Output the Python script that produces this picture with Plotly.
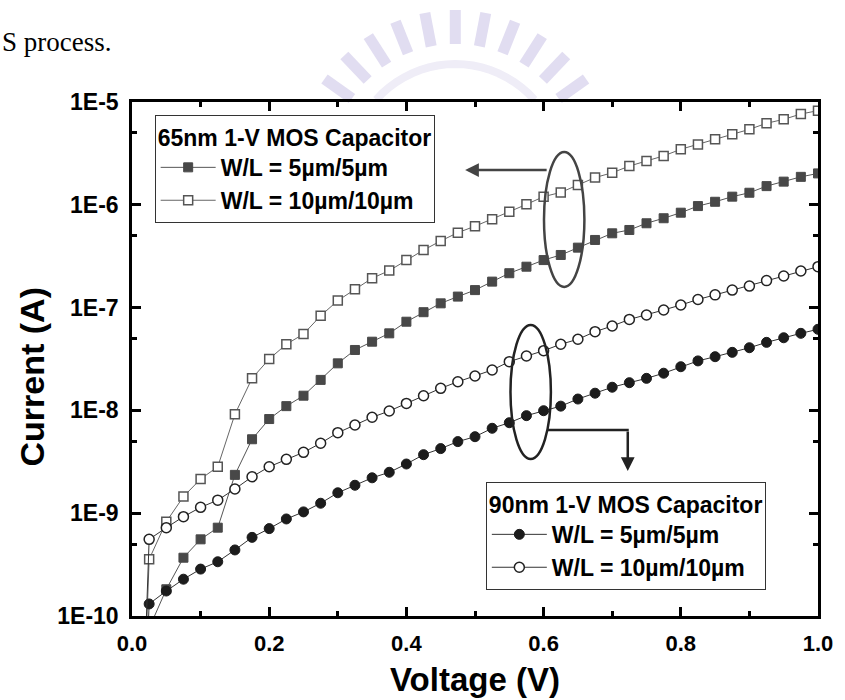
import math
import plotly.graph_objects as go

# ---------------- data ----------------
voltage = [0.0, 0.025, 0.05, 0.075, 0.1, 0.125, 0.15, 0.175, 0.2, 0.225, 0.25,
           0.275, 0.3, 0.325, 0.35, 0.375, 0.4, 0.425, 0.45, 0.475, 0.5,
           0.525, 0.55, 0.575, 0.6, 0.625, 0.65, 0.675, 0.7, 0.725, 0.75,
           0.775, 0.8, 0.825, 0.85, 0.875, 0.9, 0.925, 0.95, 0.975, 1.0]

i65_5um = [1e-14, 7.6e-11, 1.82e-10, 3.69e-10, 5.57e-10, 7.23e-10, 2.36e-9, 5.24e-9, 8.24e-9,
           1.10e-8, 1.39e-8, 1.98e-8, 2.87e-8, 3.87e-8, 4.66e-8, 5.62e-8, 7.29e-8,
           9.02e-8, 1.10e-7, 1.28e-7, 1.48e-7, 1.79e-7, 2.16e-7, 2.50e-7, 2.90e-7,
           3.25e-7, 3.83e-7, 4.55e-7, 5.28e-7, 5.69e-7, 6.61e-7, 7.40e-7, 8.38e-7,
           9.72e-7, 1.07e-6, 1.20e-6, 1.31e-6, 1.52e-6, 1.68e-6, 1.87e-6, 2.02e-6]

i65_10um = [1e-14, 3.56e-10, 8.26e-10, 1.45e-9, 2.15e-9, 2.83e-9, 9.16e-9, 2.05e-8, 3.16e-8,
            4.40e-8, 5.53e-8, 8.32e-8, 1.17e-7, 1.51e-7, 1.93e-7, 2.29e-7, 2.90e-7,
            3.63e-7, 4.45e-7, 5.36e-7, 6.19e-7, 7.23e-7, 8.57e-7, 1.01e-6, 1.20e-6,
            1.32e-6, 1.56e-6, 1.84e-6, 2.05e-6, 2.38e-6, 2.67e-6, 2.99e-6, 3.47e-6,
            3.87e-6, 4.34e-6, 4.85e-6, 5.42e-6, 6.21e-6, 6.78e-6, 7.64e-6, 8.24e-6]

i90_5um = [1e-14, 1.31e-10, 1.75e-10, 2.28e-10, 2.86e-10, 3.37e-10, 4.39e-10, 5.82e-10, 7.08e-10,
           8.79e-10, 1.03e-9, 1.25e-9, 1.58e-9, 1.87e-9, 2.21e-9, 2.50e-9, 3.01e-9,
           3.71e-9, 4.25e-9, 4.97e-9, 5.55e-9, 6.70e-9, 7.59e-9, 8.89e-9, 9.93e-9,
           1.10e-8, 1.29e-8, 1.47e-8, 1.68e-8, 1.86e-8, 2.05e-8, 2.30e-8, 2.66e-8,
           3.03e-8, 3.33e-8, 3.67e-8, 4.07e-8, 4.59e-8, 5.09e-8, 5.62e-8, 6.15e-8]

i90_10um = [1e-14, 5.57e-10, 7.23e-10, 9.25e-10, 1.14e-9, 1.34e-9, 1.72e-9, 2.26e-9, 2.83e-9,
            3.34e-9, 3.91e-9, 4.79e-9, 6.07e-9, 7.21e-9, 8.57e-9, 9.86e-9, 1.17e-8,
            1.39e-8, 1.64e-8, 1.90e-8, 2.16e-8, 2.47e-8, 2.98e-8, 3.38e-8, 3.81e-8,
            4.40e-8, 4.92e-8, 5.83e-8, 6.62e-8, 7.67e-8, 8.47e-8, 9.48e-8, 1.06e-7,
            1.20e-7, 1.33e-7, 1.48e-7, 1.62e-7, 1.83e-7, 2.03e-7, 2.27e-7, 2.50e-7]

y_tickvals = [1e-10, 1e-9, 1e-8, 1e-7, 1e-6, 1e-5]
y_ticktext = ["1E-10", "1E-9", "1E-8", "1E-7", "1E-6", "1E-5"]
y_minorvals = [5e-10, 5e-9, 5e-8, 5e-7, 5e-6]
x_tickvals = [0.0, 0.2, 0.4, 0.6, 0.8, 1.0]

legend1_title = "65nm 1-V MOS Capacitor"
legend2_title = "90nm 1-V MOS Capacitor"
name_5 = "W/L = 5µm/5µm"
name_10 = "W/L = 10µm/10µm"

# ---------------- geometry (pixels) ----------------
W, H = 845, 700
L, R, T, B = 132, 828, 102, 616
PW, PH = R - L, B - T


def px(x):
    return (x - L) / PW


def py(y):
    return (B - y) / PH


FONT = "Liberation Sans, Arial, Helvetica, sans-serif"

fig = go.Figure()

fig.add_trace(go.Scatter(
    x=voltage, y=i65_5um, mode="lines+markers", name=name_5, legend="legend",
    line=dict(color="#555555", width=1),
    marker=dict(symbol="square", size=9, color="#484848", line=dict(color="#484848", width=1))))
fig.add_trace(go.Scatter(
    x=voltage, y=i65_10um, mode="lines+markers", name=name_10, legend="legend",
    line=dict(color="#666666", width=1),
    marker=dict(symbol="square", size=9, color="white", line=dict(color="#555555", width=1.5))))
fig.add_trace(go.Scatter(
    x=voltage, y=i90_5um, mode="lines+markers", name=name_5, legend="legend2",
    line=dict(color="#333333", width=1),
    marker=dict(symbol="circle", size=10, color="#1c1c1c", line=dict(color="#1c1c1c", width=1))))
fig.add_trace(go.Scatter(
    x=voltage, y=i90_10um, mode="lines+markers", name=name_10, legend="legend2",
    line=dict(color="#333333", width=1),
    marker=dict(symbol="circle", size=10, color="white", line=dict(color="#222222", width=1.5))))

LEG_FONT = dict(family=FONT, size=23, color="black", weight="bold")
legend_common = dict(
    xanchor="left", yanchor="top", bgcolor="white", bordercolor="#333333", borderwidth=1,
    font=LEG_FONT, itemwidth=55, tracegroupgap=0, traceorder="normal",
)

fig.update_layout(
    width=W, height=H, autosize=False,
    margin=dict(l=L, r=W - R, t=T, b=H - B),
    paper_bgcolor="white", plot_bgcolor="white",
    showlegend=True,
    legend=dict(x=px(155), y=py(115), title=dict(text=legend1_title, font=LEG_FONT), **legend_common),
    legend2=dict(x=px(491), y=py(482), title=dict(text=legend2_title, font=LEG_FONT), **legend_common),
    xaxis=dict(range=[0, 1], tickvals=x_tickvals, tickformat=".1f",
               showline=True, linecolor="black", linewidth=2.5, mirror="ticks",
               ticks="inside", ticklen=9, tickwidth=2.5, tickcolor="black",
               minor=dict(dtick=0.1, ticks="inside", ticklen=5, tickwidth=2.5, tickcolor="black"),
               showgrid=False, zeroline=False,
               tickfont=dict(family=FONT, size=22, color="black", weight="bold"),
               ticklabelstandoff=6),
    yaxis=dict(type="log", range=[-10, -5], tickvals=y_tickvals, ticktext=y_ticktext,
               showline=True, linecolor="black", linewidth=2.5, mirror="ticks",
               ticks="inside", ticklen=9, tickwidth=2.5, tickcolor="black",
               minor=dict(tickvals=y_minorvals, ticks="inside", ticklen=5, tickwidth=2.5, tickcolor="black"),
               showgrid=False, zeroline=False,
               tickfont=dict(family=FONT, size=23, color="black", weight="bold"),
               ticklabelstandoff=6),
)

annotations = [
    dict(text="Voltage (V)", x=px(480), y=py(679), xref="paper", yref="paper",
         xanchor="center", yanchor="middle",
         showarrow=False, font=dict(family=FONT, size=33, color="black", weight="bold")),
    dict(text="Current (A)", x=px(31), y=py(377), xref="paper", yref="paper", textangle=-90,
         xanchor="center", yanchor="middle",
         showarrow=False, font=dict(family=FONT, size=34, color="black", weight="bold")),
    dict(text="S process.", x=px(-2), y=py(42), xref="paper", yref="paper",
         xanchor="left", yanchor="middle",
         showarrow=False, font=dict(family="Liberation Serif, Times New Roman, serif", size=27, color="black")),
    # arrow from 65nm ellipse to its legend
    dict(text="", x=px(470), y=py(170), xref="paper", yref="paper", showarrow=True,
         ax=553 - 470, ay=0, arrowhead=2, arrowsize=1.1, arrowwidth=2.5, arrowcolor="#444444", standoff=0),
    # arrow down to 90nm legend
    dict(text="", x=px(635), y=py(471), xref="paper", yref="paper", showarrow=True,
         ax=0, ay=-(471 - 430), arrowhead=2, arrowsize=1.1, arrowwidth=2.5, arrowcolor="#222222", standoff=0),
]
fig.update_layout(annotations=annotations)

shapes = [
    dict(type="circle", xref="paper", yref="paper", x0=px(550), x1=px(591), y0=py(287), y1=py(152),
         line=dict(color="#444444", width=2.5)),
    dict(type="circle", xref="paper", yref="paper", x0=px(516), x1=px(557), y0=py(459), y1=py(325),
         line=dict(color="#222222", width=2.5)),
    dict(type="line", xref="paper", yref="paper", x0=px(554), x1=px(636), y0=py(430), y1=py(430),
         line=dict(color="#222222", width=2.5)),
]

# faint watermark (partial logo) above the plot
cx, cy = 460, 172
for k in range(11):
    ang = math.radians(35 + k * 11)
    r0, r1 = 128, 162
    x0, y0 = cx + r0 * math.cos(ang), cy - r0 * math.sin(ang)
    x1, y1 = cx + r1 * math.cos(ang), cy - r1 * math.sin(ang)
    shapes.append(dict(type="line", xref="paper", yref="paper", layer="below",
                       x0=px(x0), y0=py(y0), x1=px(x1), y1=py(y1),
                       line=dict(color="#e1ddf1", width=11)))
arc_pts = []
for k in range(21):
    ang = math.radians(42 + k * 4.8)
    arc_pts.append((cx + 108 * math.cos(ang), cy - 108 * math.sin(ang)))
path = "M " + " L ".join(f"{px(a):.4f},{py(b):.4f}" for a, b in arc_pts)
shapes.append(dict(type="path", xref="paper", yref="paper", layer="below", path=path,
                   line=dict(color="#efedf7", width=8)))
fig.update_layout(shapes=shapes)

fig.write_html("out.html")
